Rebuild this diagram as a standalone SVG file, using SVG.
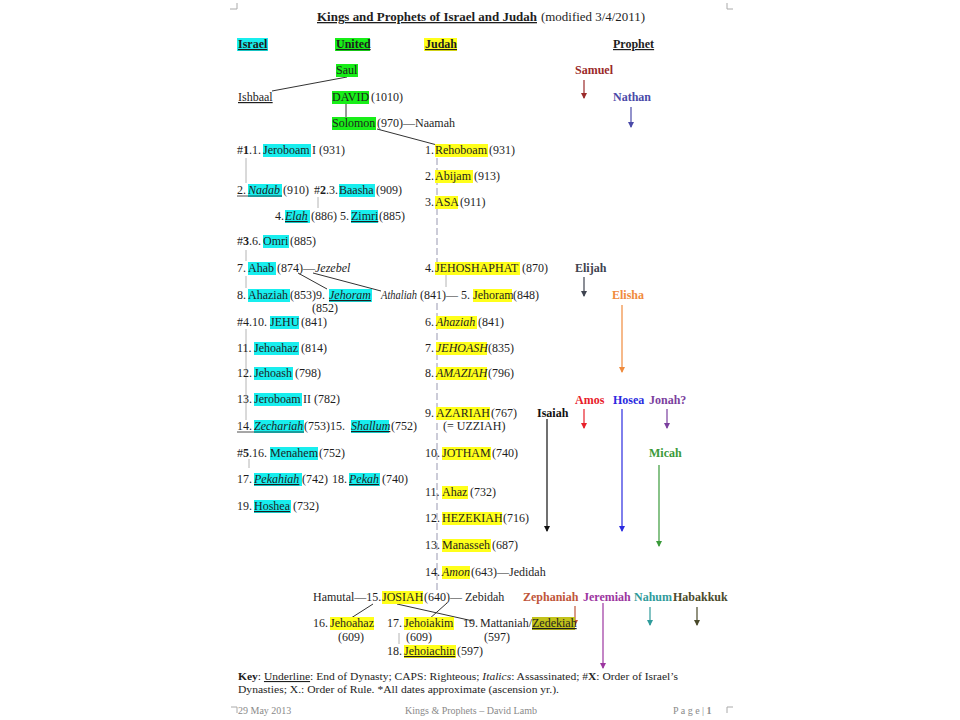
<svg xmlns="http://www.w3.org/2000/svg" width="960" height="720" viewBox="0 0 960 720">
<style>
text{font-family:"Liberation Serif","Times New Roman",serif;font-size:12px;fill:#1e1e1e}
.b{font-weight:bold}
.i{font-style:italic}
.u{text-decoration:underline}
.hc{fill:#18eeee}
.hg{fill:#18ee18}
.hy{fill:#ffff1a}
.ho{fill:#c2c21a}
.conn{stroke:#333;stroke-width:1;fill:none}
.dyn{stroke:#b4b4b4;stroke-width:1;fill:none}
.jline{stroke:#bcbccc;stroke-width:1.5;stroke-dasharray:7,3;fill:none}
.corner{stroke:#aaa;stroke-width:1;fill:none}
.ft{font-size:10px;fill:#8a8a8a}
.pr{font-weight:bold}
.key{font-size:11px}
</style>
<defs>
<marker id="m-samuel" markerWidth="6" markerHeight="6" refX="5" refY="3" orient="auto" markerUnits="userSpaceOnUse"><path d="M0,0L6,3L0,6z" fill="#9b2a2a"/></marker>
<marker id="m-nathan" markerWidth="6" markerHeight="6" refX="5" refY="3" orient="auto" markerUnits="userSpaceOnUse"><path d="M0,0L6,3L0,6z" fill="#4a4aa8"/></marker>
<marker id="m-elijah" markerWidth="6" markerHeight="6" refX="5" refY="3" orient="auto" markerUnits="userSpaceOnUse"><path d="M0,0L6,3L0,6z" fill="#3f4350"/></marker>
<marker id="m-elisha" markerWidth="6" markerHeight="6" refX="5" refY="3" orient="auto" markerUnits="userSpaceOnUse"><path d="M0,0L6,3L0,6z" fill="#f08a3c"/></marker>
<marker id="m-amos" markerWidth="6" markerHeight="6" refX="5" refY="3" orient="auto" markerUnits="userSpaceOnUse"><path d="M0,0L6,3L0,6z" fill="#e8202a"/></marker>
<marker id="m-hosea" markerWidth="6" markerHeight="6" refX="5" refY="3" orient="auto" markerUnits="userSpaceOnUse"><path d="M0,0L6,3L0,6z" fill="#2a2ae0"/></marker>
<marker id="m-jonah" markerWidth="6" markerHeight="6" refX="5" refY="3" orient="auto" markerUnits="userSpaceOnUse"><path d="M0,0L6,3L0,6z" fill="#7b3f9e"/></marker>
<marker id="m-isaiah" markerWidth="6" markerHeight="6" refX="5" refY="3" orient="auto" markerUnits="userSpaceOnUse"><path d="M0,0L6,3L0,6z" fill="#111"/></marker>
<marker id="m-micah" markerWidth="6" markerHeight="6" refX="5" refY="3" orient="auto" markerUnits="userSpaceOnUse"><path d="M0,0L6,3L0,6z" fill="#3a9a3a"/></marker>
<marker id="m-zeph" markerWidth="6" markerHeight="6" refX="5" refY="3" orient="auto" markerUnits="userSpaceOnUse"><path d="M0,0L6,3L0,6z" fill="#c0553a"/></marker>
<marker id="m-jer" markerWidth="6" markerHeight="6" refX="5" refY="3" orient="auto" markerUnits="userSpaceOnUse"><path d="M0,0L6,3L0,6z" fill="#9c35a0"/></marker>
<marker id="m-nahum" markerWidth="6" markerHeight="6" refX="5" refY="3" orient="auto" markerUnits="userSpaceOnUse"><path d="M0,0L6,3L0,6z" fill="#2f9b9b"/></marker>
<marker id="m-hab" markerWidth="6" markerHeight="6" refX="5" refY="3" orient="auto" markerUnits="userSpaceOnUse"><path d="M0,0L6,3L0,6z" fill="#4a4a2a"/></marker>
</defs>
<rect width="960" height="720" fill="#fff"/>

<g id="page-corners">
<path class="corner" d="M230,9H237V3"/>
<path class="corner" d="M727,3V9H733"/>
<path class="corner" d="M231,707H237V713"/>
<path class="corner" d="M733,707H727V713"/>
</g>

<g id="title">
<text x="317" y="21" class="b u" style="font-size:13px" textLength="220" lengthAdjust="spacingAndGlyphs">Kings and Prophets of Israel and Judah</text>
<text x="541" y="21" style="font-size:13px" textLength="104" lengthAdjust="spacingAndGlyphs">(modified 3/4/2011)</text>
</g>

<g id="headers">
<rect class="hc" x="237" y="38" width="31" height="13"/>
<text x="238" y="48" class="b u">Israel</text>
<rect class="hg" x="335" y="38" width="35" height="13"/>
<text x="336" y="48" class="b u">United</text>
<rect class="hy" x="424" y="38" width="33" height="13"/>
<text x="425" y="48" class="b u">Judah</text>
<text x="613" y="48" class="b u">Prophet</text>
</g>

<g id="succession-lines">
<line class="jline" x1="437" y1="158" x2="437" y2="262"/>
<line class="jline" x1="437" y1="303" x2="437" y2="590"/>
<line class="dyn" x1="246" y1="158" x2="246" y2="183"/>
<line class="dyn" x1="318" y1="197" x2="318" y2="208"/>
<line class="dyn" x1="246" y1="250" x2="246" y2="261"/>
<line class="dyn" x1="246" y1="276" x2="246" y2="288"/>
<line class="dyn" x1="246" y1="329" x2="246" y2="420"/>
<line class="dyn" x1="249" y1="459" x2="249" y2="468"/>
<line class="dyn" x1="446" y1="274" x2="446" y2="287"/>
<line class="dyn" x1="399" y1="633" x2="399" y2="644"/>
</g>

<g id="connectors">
<line class="conn" x1="347" y1="77" x2="272" y2="91"/>
<line class="conn" x1="346" y1="104" x2="346" y2="117"/>
<line class="conn" x1="377" y1="129" x2="437" y2="145"/>
<line class="conn" x1="298" y1="273" x2="327" y2="289"/>
<line class="conn" x1="313" y1="273" x2="381" y2="291"/>
<line class="conn" x1="373" y1="604" x2="348" y2="620"/>
<line class="conn" x1="447" y1="603" x2="428" y2="620"/>
<line class="conn" x1="397" y1="604" x2="473" y2="621"/>
<line stroke="#9b2a2a" stroke-width="1.2" x1="584" y1="80" x2="584" y2="98" marker-end="url(#m-samuel)"/>
<line stroke="#4a4aa8" stroke-width="1.2" x1="631" y1="107" x2="631" y2="127" marker-end="url(#m-nathan)"/>
<line stroke="#3f4350" stroke-width="1.2" x1="584" y1="277" x2="584" y2="296" marker-end="url(#m-elijah)"/>
<line stroke="#f08a3c" stroke-width="1.2" x1="622" y1="305" x2="622" y2="372" marker-end="url(#m-elisha)"/>
<line stroke="#e8202a" stroke-width="1.2" x1="584" y1="409" x2="584" y2="428" marker-end="url(#m-amos)"/>
<line stroke="#2a2ae0" stroke-width="1.2" x1="622" y1="409" x2="622" y2="531" marker-end="url(#m-hosea)"/>
<line stroke="#7b3f9e" stroke-width="1.2" x1="667" y1="409" x2="667" y2="428" marker-end="url(#m-jonah)"/>
<line stroke="#111" stroke-width="1.2" x1="547" y1="419" x2="547" y2="531" marker-end="url(#m-isaiah)"/>
<line stroke="#3a9a3a" stroke-width="1.2" x1="659" y1="465" x2="659" y2="546" marker-end="url(#m-micah)"/>
<line stroke="#c0553a" stroke-width="1.2" x1="575" y1="606" x2="575" y2="625" marker-end="url(#m-zeph)"/>
<line stroke="#9c35a0" stroke-width="1.2" x1="603" y1="603" x2="603" y2="668" marker-end="url(#m-jer)"/>
<line stroke="#2f9b9b" stroke-width="1.2" x1="650" y1="607" x2="650" y2="625" marker-end="url(#m-nahum)"/>
<line stroke="#4a4a2a" stroke-width="1.2" x1="697" y1="607" x2="697" y2="625" marker-end="url(#m-hab)"/>
</g>

<g id="saul"><rect class="hg" x="336" y="64" width="22" height="13"/><text x="336" y="74">Saul</text></g>
<g id="ishbaal"><text x="238" y="101" class="u">Ishbaal</text></g>
<g id="david"><rect class="hg" x="332" y="91" width="37" height="13"/><text x="332" y="101">DAVID</text><text x="371" y="101">(1010)</text></g>
<g id="solomon"><rect class="hg" x="332" y="117" width="44" height="13"/><text x="332" y="127">Solomon</text><text x="377" y="127">(970)—Naamah</text></g>

<g id="jeroboam1"><rect class="hc" x="263" y="144" width="48" height="13"/><text x="237" y="154">#<tspan class="b">1</tspan>.1.</text><text x="263" y="154">Jeroboam</text><text x="312" y="154">I (931)</text></g>
<g id="nadab"><rect class="hc" x="248" y="184" width="34" height="13"/><text x="237" y="194">2.</text><text x="248" y="194" class="i">Nadab</text><line x1="237" y1="196" x2="282" y2="196" stroke="#222" stroke-width="0.8"/><text x="283" y="194">(910)</text></g>
<g id="baasha"><rect class="hc" x="339" y="184" width="36" height="13"/><text x="314" y="194">#<tspan class="b">2</tspan>.3.</text><text x="339" y="194">Baasha</text><text x="376" y="194">(909)</text></g>
<g id="elah"><rect class="hc" x="285" y="210" width="25" height="13"/><text x="275" y="220">4.</text><text x="285" y="220" class="i u">Elah</text><text x="311" y="220">(886)</text></g>
<g id="zimri"><rect class="hc" x="351" y="210" width="27" height="13"/><text x="340" y="220">5.</text><text x="351" y="220" class="u">Zimri</text><text x="379" y="220">(885)</text></g>
<g id="omri"><rect class="hc" x="263" y="235" width="26" height="13"/><text x="237" y="245">#<tspan class="b">3</tspan>.6.</text><text x="263" y="245">Omri</text><text x="290" y="245">(885)</text></g>
<g id="ahab"><rect class="hc" x="248" y="262" width="28" height="13"/><text x="237" y="272">7.</text><text x="248" y="272">Ahab</text><text x="277" y="272">(874)—<tspan class="i">Jezebel</tspan></text></g>
<g id="ahaziah-i"><rect class="hc" x="248" y="289" width="42" height="13"/><text x="237" y="299">8.</text><text x="248" y="299">Ahaziah</text><text x="290" y="299">(853)9.</text></g>
<g id="jehoram-i"><rect class="hc" x="329" y="289" width="43" height="13"/><text x="329" y="299" class="i u">Jehoram</text><text x="312" y="312">(852)</text></g>
<g id="jehu"><rect class="hc" x="270" y="316" width="29" height="13"/><text x="237" y="326">#4.10.</text><text x="270" y="326">JEHU</text><text x="301" y="326">(841)</text></g>
<g id="jehoahaz-i"><rect class="hc" x="254" y="342" width="45" height="13"/><text x="237" y="352">11.</text><text x="254" y="352">Jehoahaz</text><text x="301" y="352">(814)</text></g>
<g id="jehoash-i"><rect class="hc" x="254" y="367" width="39" height="13"/><text x="237" y="377">12.</text><text x="254" y="377">Jehoash</text><text x="295" y="377">(798)</text></g>
<g id="jeroboam2"><rect class="hc" x="254" y="393" width="48" height="13"/><text x="237" y="403">13.</text><text x="254" y="403">Jeroboam</text><text x="303" y="403">II (782)</text></g>
<g id="zechariah"><rect class="hc" x="254" y="420" width="50" height="13"/><text x="237" y="430">14.</text><text x="254" y="430" class="i">Zechariah</text><line x1="237" y1="432" x2="304" y2="432" stroke="#222" stroke-width="0.8"/><text x="304" y="430">(753)15.</text></g>
<g id="shallum"><rect class="hc" x="351" y="420" width="38" height="13"/><text x="351" y="430" class="i u">Shallum</text><text x="391" y="430">(752)</text></g>
<g id="menahem"><rect class="hc" x="270" y="447" width="48" height="13"/><text x="237" y="457">#<tspan class="b">5</tspan>.16.</text><text x="270" y="457">Menahem</text><text x="319" y="457">(752)</text></g>
<g id="pekahiah"><rect class="hc" x="254" y="473" width="48" height="13"/><text x="237" y="483">17.</text><text x="254" y="483" class="i u">Pekahiah</text><text x="302" y="483">(742)</text></g>
<g id="pekah"><rect class="hc" x="349" y="473" width="31" height="13"/><text x="332" y="483">18.</text><text x="349" y="483" class="i u">Pekah</text><text x="382" y="483">(740)</text></g>
<g id="hoshea"><rect class="hc" x="254" y="500" width="37" height="13"/><text x="237" y="510">19.</text><text x="254" y="510" class="u">Hoshea</text><text x="293" y="510">(732)</text></g>

<g id="rehoboam"><rect class="hy" x="435" y="144" width="53" height="13"/><text x="425" y="154">1.</text><text x="435" y="154">Rehoboam</text><text x="489" y="154">(931)</text></g>
<g id="abijam"><rect class="hy" x="435" y="170" width="38" height="13"/><text x="425" y="180">2.</text><text x="435" y="180">Abijam</text><text x="474" y="180">(913)</text></g>
<g id="asa"><rect class="hy" x="435" y="196" width="23" height="13"/><text x="425" y="206">3.</text><text x="435" y="206">ASA</text><text x="460" y="206">(911)</text></g>
<g id="jehoshaphat"><rect class="hy" x="435" y="262" width="85" height="13"/><text x="425" y="272">4.</text><text x="435" y="272">JEHOSHAPHAT</text><text x="522" y="272">(870)</text></g>
<g id="athaliah"><text x="381" y="299" class="i" textLength="36" lengthAdjust="spacingAndGlyphs">Athaliah</text><text x="420" y="299">(841)—</text></g>
<g id="jehoram-j"><rect class="hy" x="473" y="289" width="39" height="13"/><text x="461" y="299">5.</text><text x="473" y="299">Jehoram</text><text x="513" y="299">(848)</text></g>
<g id="ahaziah-j"><rect class="hy" x="436" y="316" width="41" height="13"/><text x="425" y="326">6.</text><text x="436" y="326" class="i">Ahaziah</text><text x="478" y="326">(841)</text></g>
<g id="jehoash-j"><rect class="hy" x="436" y="342" width="51" height="13"/><text x="425" y="352">7.</text><text x="436" y="352" class="i">JEHOASH</text><text x="488" y="352">(835)</text></g>
<g id="amaziah"><rect class="hy" x="436" y="367" width="51" height="13"/><text x="425" y="377">8.</text><text x="436" y="377" class="i">AMAZIAH</text><text x="488" y="377">(796)</text></g>
<g id="azariah"><rect class="hy" x="436" y="407" width="54" height="13"/><text x="425" y="417">9.</text><text x="436" y="417">AZARIAH</text><text x="491" y="417">(767)</text><text x="443" y="430">(= UZZIAH)</text></g>
<g id="jotham"><rect class="hy" x="442" y="447" width="49" height="13"/><text x="425" y="457">10.</text><text x="442" y="457">JOTHAM</text><text x="492" y="457">(740)</text></g>
<g id="ahaz"><rect class="hy" x="442" y="486" width="26" height="13"/><text x="425" y="496">11.</text><text x="442" y="496">Ahaz</text><text x="470" y="496">(732)</text></g>
<g id="hezekiah"><rect class="hy" x="442" y="512" width="60" height="13"/><text x="425" y="522">12.</text><text x="442" y="522">HEZEKIAH</text><text x="503" y="522">(716)</text></g>
<g id="manasseh"><rect class="hy" x="442" y="539" width="49" height="13"/><text x="425" y="549">13.</text><text x="442" y="549">Manasseh</text><text x="492" y="549">(687)</text></g>
<g id="amon"><rect class="hy" x="442" y="566" width="28" height="13"/><text x="425" y="576">14.</text><text x="442" y="576" class="i">Amon</text><text x="471" y="576">(643)—Jedidah</text></g>
<g id="josiah"><rect class="hy" x="382" y="591" width="41" height="13"/><text x="313" y="601">Hamutal—15.</text><text x="382" y="601">JOSIAH</text><text x="424" y="601">(640)— Zebidah</text></g>
<g id="jehoahaz-j"><rect class="hy" x="330" y="617" width="44" height="13"/><text x="313" y="627">16.</text><text x="330" y="627">Jehoahaz</text><text x="338" y="641">(609)</text></g>
<g id="jehoiakim"><rect class="hy" x="404" y="617" width="50" height="13"/><text x="387" y="627">17.</text><text x="404" y="627">Jehoiakim</text><text x="406" y="641">(609)</text></g>
<g id="zedekiah"><rect class="ho" x="532" y="617" width="43" height="13"/><text x="463" y="627">19.</text><text x="480" y="627">Mattaniah/</text><text x="532" y="627" class="u">Zedekiah</text><text x="484" y="641">(597)</text></g>
<g id="jehoiachin"><rect class="hy" x="404" y="645" width="52" height="13"/><text x="387" y="655">18.</text><text x="404" y="655" class="u">Jehoiachin</text><text x="457" y="655">(597)</text></g>

<g id="samuel"><text x="575" y="74" class="pr" style="fill:#9b2a2a">Samuel</text></g>
<g id="nathan"><text x="613" y="101" class="pr" style="fill:#4a4aa8">Nathan</text></g>
<g id="elijah"><text x="575" y="272" class="pr" style="fill:#3f4350">Elijah</text></g>
<g id="elisha"><text x="612" y="299" class="pr" style="fill:#f08a3c">Elisha</text></g>
<g id="amos"><text x="575" y="404" class="pr" style="fill:#e8202a">Amos</text></g>
<g id="hosea"><text x="613" y="404" class="pr" style="fill:#2a2ae0">Hosea</text></g>
<g id="jonah"><text x="649" y="404" class="pr" style="fill:#7b3f9e">Jonah?</text></g>
<g id="isaiah"><text x="537" y="417" class="pr" style="fill:#111">Isaiah</text></g>
<g id="micah"><text x="649" y="457" class="pr" style="fill:#3a9a3a">Micah</text></g>
<g id="zephaniah"><text x="523" y="601" class="pr" style="fill:#c0553a">Zephaniah</text></g>
<g id="jeremiah"><text x="583" y="601" class="pr" style="fill:#9c35a0">Jeremiah</text></g>
<g id="nahum"><text x="634" y="601" class="pr" style="fill:#2f9b9b">Nahum</text></g>
<g id="habakkuk"><text x="673" y="601" class="pr" style="fill:#4a4a2a">Habakkuk</text></g>

<g id="key">
<text x="238" y="680" class="key" textLength="440" lengthAdjust="spacingAndGlyphs"><tspan class="b">Key</tspan>: <tspan class="u">Underline</tspan>: End of Dynasty; CAPS: Righteous; <tspan class="i">Italics</tspan>: Assassinated; #<tspan class="b">X</tspan>: Order of Israel’s</text>
<text x="238" y="693" class="key" textLength="321" lengthAdjust="spacingAndGlyphs">Dynasties; X.: Order of Rule.  *All dates approximate (ascension yr.).</text>
</g>

<g id="footer">
<text x="238" y="714" class="ft">29 May 2013</text>
<text x="405" y="714" class="ft">Kings &amp; Prophets – David Lamb</text>
<text x="673" y="714" class="ft">P a g e | <tspan class="b">1</tspan></text>
</g>
</svg>
